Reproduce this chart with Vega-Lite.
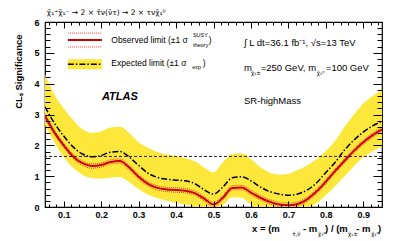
{
  "$schema": "https://vega.github.io/schema/vega-lite/v6.json",
  "width": 337,
  "height": 185,
  "autosize": {"type": "none"},
  "padding": {"left": 45, "top": 22, "right": 25, "bottom": 34},
  "background": "white",
  "config": {"view": {"stroke": "black", "strokeWidth": 1.2}, "font": "Liberation Sans"},
  "datasets": {
    "curve": [
      {"x": 0.05, "obs": 2.95, "obsUp": 3.02, "obsDn": 2.88, "exp": 3.25, "hi": 4.3, "lo": 2.65},
      {"x": 0.075, "obs": 2.42, "obsUp": 2.49, "obsDn": 2.35, "exp": 2.72, "hi": 3.65, "lo": 2.1},
      {"x": 0.1, "obs": 2.0, "obsUp": 2.07, "obsDn": 1.93, "exp": 2.3, "hi": 3.2, "lo": 1.62},
      {"x": 0.125, "obs": 1.64, "obsUp": 1.71, "obsDn": 1.57, "exp": 1.95, "hi": 2.82, "lo": 1.27},
      {"x": 0.15, "obs": 1.42, "obsUp": 1.49, "obsDn": 1.35, "exp": 1.72, "hi": 2.52, "lo": 1.05},
      {"x": 0.175, "obs": 1.33, "obsUp": 1.4, "obsDn": 1.26, "exp": 1.63, "hi": 2.41, "lo": 0.94},
      {"x": 0.2, "obs": 1.36, "obsUp": 1.43, "obsDn": 1.29, "exp": 1.67, "hi": 2.45, "lo": 0.92},
      {"x": 0.225, "obs": 1.46, "obsUp": 1.53, "obsDn": 1.39, "exp": 1.78, "hi": 2.58, "lo": 0.95},
      {"x": 0.25, "obs": 1.49, "obsUp": 1.56, "obsDn": 1.42, "exp": 1.8, "hi": 2.6, "lo": 0.97},
      {"x": 0.275, "obs": 1.28, "obsUp": 1.35, "obsDn": 1.21, "exp": 1.62, "hi": 2.4, "lo": 0.8},
      {"x": 0.3, "obs": 0.98, "obsUp": 1.05, "obsDn": 0.91, "exp": 1.35, "hi": 2.1, "lo": 0.58},
      {"x": 0.325, "obs": 0.75, "obsUp": 0.82, "obsDn": 0.68, "exp": 1.1, "hi": 1.92, "lo": 0.4},
      {"x": 0.35, "obs": 0.62, "obsUp": 0.69, "obsDn": 0.55, "exp": 0.96, "hi": 1.78, "lo": 0.29},
      {"x": 0.375, "obs": 0.57, "obsUp": 0.64, "obsDn": 0.5, "exp": 0.9, "hi": 1.7, "lo": 0.2},
      {"x": 0.4, "obs": 0.55, "obsUp": 0.62, "obsDn": 0.48, "exp": 0.87, "hi": 1.65, "lo": 0.14},
      {"x": 0.425, "obs": 0.53, "obsUp": 0.6, "obsDn": 0.46, "exp": 0.85, "hi": 1.58, "lo": 0.08},
      {"x": 0.45, "obs": 0.45, "obsUp": 0.52, "obsDn": 0.38, "exp": 0.76, "hi": 1.48, "lo": 0.0},
      {"x": 0.475, "obs": 0.27, "obsUp": 0.34, "obsDn": 0.2, "exp": 0.56, "hi": 1.28, "lo": -0.12},
      {"x": 0.5, "obs": 0.08, "obsUp": 0.15, "obsDn": 0.01, "exp": 0.42, "hi": 1.12, "lo": -0.2},
      {"x": 0.525, "obs": 0.3, "obsUp": 0.37, "obsDn": 0.23, "exp": 0.65, "hi": 1.45, "lo": 0.05},
      {"x": 0.55, "obs": 0.62, "obsUp": 0.69, "obsDn": 0.55, "exp": 0.95, "hi": 1.72, "lo": 0.32},
      {"x": 0.575, "obs": 0.63, "obsUp": 0.7, "obsDn": 0.56, "exp": 0.98, "hi": 1.74, "lo": 0.3},
      {"x": 0.6, "obs": 0.47, "obsUp": 0.54, "obsDn": 0.4, "exp": 0.85, "hi": 1.55, "lo": 0.08},
      {"x": 0.625, "obs": 0.3, "obsUp": 0.37, "obsDn": 0.23, "exp": 0.65, "hi": 1.3, "lo": -0.1},
      {"x": 0.65, "obs": 0.17, "obsUp": 0.24, "obsDn": 0.1, "exp": 0.5, "hi": 1.12, "lo": -0.2},
      {"x": 0.675, "obs": 0.08, "obsUp": 0.15, "obsDn": 0.01, "exp": 0.42, "hi": 1.05, "lo": -0.3},
      {"x": 0.7, "obs": 0.06, "obsUp": 0.13, "obsDn": -0.01, "exp": 0.38, "hi": 1.08, "lo": -0.3},
      {"x": 0.725, "obs": 0.1, "obsUp": 0.17, "obsDn": 0.03, "exp": 0.42, "hi": 1.2, "lo": -0.2},
      {"x": 0.75, "obs": 0.25, "obsUp": 0.32, "obsDn": 0.18, "exp": 0.55, "hi": 1.35, "lo": -0.05},
      {"x": 0.775, "obs": 0.5, "obsUp": 0.57, "obsDn": 0.43, "exp": 0.78, "hi": 1.55, "lo": 0.12},
      {"x": 0.8, "obs": 0.82, "obsUp": 0.89, "obsDn": 0.75, "exp": 1.12, "hi": 1.82, "lo": 0.38},
      {"x": 0.825, "obs": 1.17, "obsUp": 1.24, "obsDn": 1.1, "exp": 1.45, "hi": 2.15, "lo": 0.68},
      {"x": 0.85, "obs": 1.5, "obsUp": 1.57, "obsDn": 1.43, "exp": 1.85, "hi": 2.6, "lo": 1.0},
      {"x": 0.875, "obs": 1.82, "obsUp": 1.89, "obsDn": 1.75, "exp": 2.17, "hi": 3.0, "lo": 1.32},
      {"x": 0.9, "obs": 2.1, "obsUp": 2.17, "obsDn": 2.03, "exp": 2.43, "hi": 3.35, "lo": 1.62},
      {"x": 0.925, "obs": 2.33, "obsUp": 2.4, "obsDn": 2.26, "exp": 2.63, "hi": 3.6, "lo": 1.8},
      {"x": 0.95, "obs": 2.52, "obsUp": 2.59, "obsDn": 2.45, "exp": 2.78, "hi": 3.8, "lo": 1.97}
    ]
  },
  "resolve": {"axis": {"x": "independent", "y": "independent"}},
  "layer": [
    {
      "data": {"name": "curve"},
      "mark": {"type": "area", "color": "#fde73a", "interpolate": "monotone", "clip": true},
      "encoding": {
        "x": {"field": "x", "type": "quantitative", "scale": {"domain": [0.05, 0.95], "nice": false, "zero": false},
          "axis": {"orient": "bottom", "title": null, "domain": false, "grid": false, "zindex": 1,
            "values": [0.06,0.08,0.1,0.12,0.14,0.16,0.18,0.2,0.22,0.24,0.26,0.28,0.3,0.32,0.34,0.36,0.38,0.4,0.42,0.44,0.46,0.48,0.5,0.52,0.54,0.56,0.58,0.6,0.62,0.64,0.66,0.68,0.7,0.72,0.74,0.76,0.78,0.8,0.82,0.84,0.86,0.88,0.9,0.92,0.94],
            "labelExpr": "abs(datum.value*10 - round(datum.value*10)) < 0.000001 ? format(datum.value, '.1f') : ''",
            "tickSize": {"condition": {"test": "abs(datum.value*10 - round(datum.value*10)) < 0.000001", "value": -6}, "value": -3},
            "tickColor": "black", "tickWidth": 1, "labelFont": "Liberation Sans", "labelFontWeight": "bold", "labelFontSize": 9, "labelColor": "black", "labelPadding": 9, "labelBaseline": "top"}},
        "y": {"field": "lo", "type": "quantitative", "scale": {"domain": [0, 6], "nice": false, "zero": false},
          "axis": {"orient": "left", "domain": false, "grid": false, "zindex": 1,
            "values": [0,0.2,0.4,0.6,0.8,1,1.2,1.4,1.6,1.8,2,2.2,2.4,2.6,2.8,3,3.2,3.4,3.6,3.8,4,4.2,4.4,4.6,4.8,5,5.2,5.4,5.6,5.8,6],
            "labelExpr": "abs(datum.value - round(datum.value)) < 0.000001 ? format(datum.value, '.0f') : ''",
            "tickSize": {"condition": {"test": "abs(datum.value - round(datum.value)) < 0.000001", "value": -9}, "value": -5},
            "tickColor": "black", "tickWidth": 1, "labelFont": "Liberation Sans", "labelFontWeight": "bold", "labelFontSize": 9, "labelColor": "black", "labelPadding": 15,
            "title": "CLₛ Significance", "titleFont": "Liberation Sans", "titleFontWeight": "bold", "titleFontSize": 9.5, "titleColor": "black",
            "titleAnchor": "end", "titleAngle": 270, "titleAlign": "right", "titleBaseline": "middle", "titleX": -27, "titleY": 12}},
        "y2": {"field": "hi"}
      }
    },
    {
      "data": {"name": "curve"},
      "mark": {"type": "line", "color": "black", "strokeWidth": 1.5, "strokeDash": [6, 2, 1.5, 2], "interpolate": "monotone", "clip": true},
      "encoding": {
        "x": {"field": "x", "type": "quantitative", "scale": {"domain": [0.05, 0.95], "nice": false, "zero": false},
          "axis": {"orient": "top", "title": null, "domain": false, "grid": false, "labels": false, "zindex": 1,
            "values": [0.06,0.08,0.1,0.12,0.14,0.16,0.18,0.2,0.22,0.24,0.26,0.28,0.3,0.32,0.34,0.36,0.38,0.4,0.42,0.44,0.46,0.48,0.5,0.52,0.54,0.56,0.58,0.6,0.62,0.64,0.66,0.68,0.7,0.72,0.74,0.76,0.78,0.8,0.82,0.84,0.86,0.88,0.9,0.92,0.94],
            "tickSize": {"condition": {"test": "abs(datum.value*10 - round(datum.value*10)) < 0.000001", "value": -6}, "value": -3},
            "tickColor": "black", "tickWidth": 1}},
        "y": {"field": "exp", "type": "quantitative", "scale": {"domain": [0, 6], "nice": false, "zero": false},
          "axis": {"orient": "right", "title": null, "domain": false, "grid": false, "labels": false, "zindex": 1,
            "values": [0,0.2,0.4,0.6,0.8,1,1.2,1.4,1.6,1.8,2,2.2,2.4,2.6,2.8,3,3.2,3.4,3.6,3.8,4,4.2,4.4,4.6,4.8,5,5.2,5.4,5.6,5.8,6],
            "tickSize": {"condition": {"test": "abs(datum.value - round(datum.value)) < 0.000001", "value": -9}, "value": -5},
            "tickColor": "black", "tickWidth": 1}}
      }
    },
    {
      "data": {"name": "curve"},
      "mark": {"type": "line", "color": "#e8402a", "strokeWidth": 1, "strokeDash": [1, 1], "interpolate": "monotone", "clip": true},
      "encoding": {
        "x": {"field": "x", "type": "quantitative", "axis": null},
        "y": {"field": "obsUp", "type": "quantitative", "axis": null}
      }
    },
    {
      "data": {"name": "curve"},
      "mark": {"type": "line", "color": "#e8402a", "strokeWidth": 1, "strokeDash": [1, 1], "interpolate": "monotone", "clip": true},
      "encoding": {
        "x": {"field": "x", "type": "quantitative", "axis": null},
        "y": {"field": "obsDn", "type": "quantitative", "axis": null}
      }
    },
    {
      "data": {"name": "curve"},
      "mark": {"type": "line", "color": "#cc0000", "strokeWidth": 2, "interpolate": "monotone", "clip": true},
      "encoding": {
        "x": {"field": "x", "type": "quantitative", "axis": null},
        "y": {"field": "obs", "type": "quantitative", "axis": null}
      }
    },
    {
      "data": {"values": [{}]},
      "mark": {"type": "rule", "color": "#222222", "strokeWidth": 1, "strokeDash": [3, 2]},
      "encoding": {"y": {"datum": 1.64, "type": "quantitative", "axis": null}}
    },
    {
      "data": {"values": [{}]},
      "mark": {"type": "rule", "color": "#e8402a", "strokeWidth": 1, "strokeDash": [1, 1]},
      "encoding": {"x": {"datum": 0.111, "type": "quantitative", "axis": null}, "x2": {"datum": 0.202}, "y": {"datum": 5.64, "type": "quantitative", "axis": null}}
    },
    {
      "data": {"values": [{}]},
      "mark": {"type": "rule", "color": "#cc0000", "strokeWidth": 2},
      "encoding": {"x": {"datum": 0.111, "type": "quantitative", "axis": null}, "x2": {"datum": 0.202}, "y": {"datum": 5.42, "type": "quantitative", "axis": null}}
    },
    {
      "data": {"values": [{}]},
      "mark": {"type": "rule", "color": "#e8402a", "strokeWidth": 1, "strokeDash": [1, 1]},
      "encoding": {"x": {"datum": 0.111, "type": "quantitative", "axis": null}, "x2": {"datum": 0.202}, "y": {"datum": 5.19, "type": "quantitative", "axis": null}}
    },
    {
      "data": {"values": [{}]},
      "mark": {"type": "rect", "color": "#fde73a"},
      "encoding": {"x": {"datum": 0.111, "type": "quantitative", "axis": null}, "x2": {"datum": 0.202}, "y": {"datum": 4.47, "type": "quantitative", "axis": null}, "y2": {"datum": 4.79}}
    },
    {
      "data": {"values": [{}]},
      "mark": {"type": "rule", "color": "black", "strokeWidth": 1.5, "strokeDash": [6, 2, 1.5, 2]},
      "encoding": {"x": {"datum": 0.111, "type": "quantitative", "axis": null}, "x2": {"datum": 0.202}, "y": {"datum": 4.63, "type": "quantitative", "axis": null}}
    },
    {
      "data": {"values": [{}]},
      "mark": {"type": "text", "text": "Observed limit (±1 σ", "align": "left", "baseline": "middle", "fontSize": 8.5, "font": "Liberation Sans", "color": "black"},
      "encoding": {"x": {"datum": 0.227, "type": "quantitative", "axis": null}, "y": {"datum": 5.42, "type": "quantitative", "axis": null}}
    },
    {
      "data": {"values": [{}]},
      "mark": {"type": "text", "text": "SUSY", "align": "left", "baseline": "middle", "fontSize": 5.5, "font": "Liberation Sans", "color": "black"},
      "encoding": {"x": {"datum": 0.445, "type": "quantitative", "axis": null}, "y": {"datum": 5.57, "type": "quantitative", "axis": null}}
    },
    {
      "data": {"values": [{}]},
      "mark": {"type": "text", "text": "theory", "align": "left", "baseline": "middle", "fontSize": 5.5, "font": "Liberation Sans", "color": "black"},
      "encoding": {"x": {"datum": 0.445, "type": "quantitative", "axis": null}, "y": {"datum": 5.26, "type": "quantitative", "axis": null}}
    },
    {
      "data": {"values": [{}]},
      "mark": {"type": "text", "text": ")", "align": "left", "baseline": "middle", "fontSize": 8.5, "font": "Liberation Sans", "color": "black"},
      "encoding": {"x": {"datum": 0.487, "type": "quantitative", "axis": null}, "y": {"datum": 5.42, "type": "quantitative", "axis": null}}
    },
    {
      "data": {"values": [{}]},
      "mark": {"type": "text", "text": "Expected limit (±1 σ", "align": "left", "baseline": "middle", "fontSize": 8.5, "font": "Liberation Sans", "color": "black"},
      "encoding": {"x": {"datum": 0.227, "type": "quantitative", "axis": null}, "y": {"datum": 4.68, "type": "quantitative", "axis": null}}
    },
    {
      "data": {"values": [{}]},
      "mark": {"type": "text", "text": "exp", "align": "left", "baseline": "middle", "fontSize": 5.5, "font": "Liberation Sans", "color": "black"},
      "encoding": {"x": {"datum": 0.443, "type": "quantitative", "axis": null}, "y": {"datum": 4.55, "type": "quantitative", "axis": null}}
    },
    {
      "data": {"values": [{}]},
      "mark": {"type": "text", "text": ")", "align": "left", "baseline": "middle", "fontSize": 8.5, "font": "Liberation Sans", "color": "black"},
      "encoding": {"x": {"datum": 0.471, "type": "quantitative", "axis": null}, "y": {"datum": 4.68, "type": "quantitative", "axis": null}}
    },
    {
      "data": {"values": [{}]},
      "mark": {"type": "text", "text": "∫ L dt=36.1 fb⁻¹,  √s=13 TeV", "align": "left", "baseline": "middle", "fontSize": 9.5, "font": "Liberation Sans", "color": "black"},
      "encoding": {"x": {"datum": 0.5815, "type": "quantitative", "axis": null}, "y": {"datum": 5.32, "type": "quantitative", "axis": null}}
    },
    {
      "data": {"values": [{}]},
      "mark": {"type": "text", "text": "m", "align": "left", "baseline": "middle", "fontSize": 9.5, "font": "Liberation Sans", "color": "black"},
      "encoding": {"x": {"datum": 0.5815, "type": "quantitative", "axis": null}, "y": {"datum": 4.52, "type": "quantitative", "axis": null}}
    },
    {
      "data": {"values": [{}]},
      "mark": {"type": "text", "text": "χ̃₁±", "align": "left", "baseline": "middle", "fontSize": 5.5, "font": "DejaVu Sans", "color": "black"},
      "encoding": {"x": {"datum": 0.6, "type": "quantitative", "axis": null}, "y": {"datum": 4.36, "type": "quantitative", "axis": null}}
    },
    {
      "data": {"values": [{}]},
      "mark": {"type": "text", "text": "=250 GeV, m", "align": "left", "baseline": "middle", "fontSize": 9.5, "font": "Liberation Sans", "color": "black"},
      "encoding": {"x": {"datum": 0.626, "type": "quantitative", "axis": null}, "y": {"datum": 4.52, "type": "quantitative", "axis": null}}
    },
    {
      "data": {"values": [{}]},
      "mark": {"type": "text", "text": "χ̃₁⁰", "align": "left", "baseline": "middle", "fontSize": 5.5, "font": "DejaVu Sans", "color": "black"},
      "encoding": {"x": {"datum": 0.776, "type": "quantitative", "axis": null}, "y": {"datum": 4.36, "type": "quantitative", "axis": null}}
    },
    {
      "data": {"values": [{}]},
      "mark": {"type": "text", "text": "=100 GeV", "align": "left", "baseline": "middle", "fontSize": 9.5, "font": "Liberation Sans", "color": "black"},
      "encoding": {"x": {"datum": 0.8, "type": "quantitative", "axis": null}, "y": {"datum": 4.52, "type": "quantitative", "axis": null}}
    },
    {
      "data": {"values": [{}]},
      "mark": {"type": "text", "text": "SR-highMass", "align": "left", "baseline": "middle", "fontSize": 9.5, "font": "Liberation Sans", "color": "black"},
      "encoding": {"x": {"datum": 0.5815, "type": "quantitative", "axis": null}, "y": {"datum": 3.44, "type": "quantitative", "axis": null}}
    },
    {
      "data": {"values": [{}]},
      "mark": {"type": "text", "text": "ATLAS", "align": "left", "baseline": "middle", "fontSize": 11, "font": "Liberation Sans", "fontWeight": "bold", "fontStyle": "italic", "color": "black"},
      "encoding": {"x": {"datum": 0.202, "type": "quantitative", "axis": null}, "y": {"datum": 3.57, "type": "quantitative", "axis": null}}
    },
    {
      "data": {"values": [{}]},
      "mark": {"type": "text", "text": "χ̃₁⁺χ̃₁⁻ → 2 × τ̃ν(ν̃τ) → 2 × τνχ̃₁⁰", "align": "left", "baseline": "middle", "fontSize": 7.5, "font": "DejaVu Sans", "color": "black"},
      "encoding": {"x": {"datum": 0.055, "type": "quantitative", "axis": null}, "y": {"datum": 6.28, "type": "quantitative", "axis": null}}
    },
    {
      "data": {"values": [{}]},
      "mark": {"type": "text", "text": "x =  (m", "align": "left", "baseline": "middle", "fontSize": 9.5, "fontWeight": "bold", "font": "Liberation Sans", "color": "black"},
      "encoding": {"x": {"datum": 0.603, "type": "quantitative", "axis": null}, "y": {"datum": -0.71, "type": "quantitative", "axis": null}}
    },
    {
      "data": {"values": [{}]},
      "mark": {"type": "text", "text": "τ̃,ν̃", "align": "left", "baseline": "middle", "fontSize": 5.5, "font": "DejaVu Sans", "color": "black"},
      "encoding": {"x": {"datum": 0.71, "type": "quantitative", "axis": null}, "y": {"datum": -0.88, "type": "quantitative", "axis": null}}
    },
    {
      "data": {"values": [{}]},
      "mark": {"type": "text", "text": "-  m", "align": "left", "baseline": "middle", "fontSize": 9.5, "fontWeight": "bold", "font": "Liberation Sans", "color": "black"},
      "encoding": {"x": {"datum": 0.739, "type": "quantitative", "axis": null}, "y": {"datum": -0.71, "type": "quantitative", "axis": null}}
    },
    {
      "data": {"values": [{}]},
      "mark": {"type": "text", "text": "χ̃₁⁰", "align": "left", "baseline": "middle", "fontSize": 5.5, "font": "DejaVu Sans", "color": "black"},
      "encoding": {"x": {"datum": 0.779, "type": "quantitative", "axis": null}, "y": {"datum": -0.88, "type": "quantitative", "axis": null}}
    },
    {
      "data": {"values": [{}]},
      "mark": {"type": "text", "text": ") / (m", "align": "left", "baseline": "middle", "fontSize": 9.5, "fontWeight": "bold", "font": "Liberation Sans", "color": "black"},
      "encoding": {"x": {"datum": 0.798, "type": "quantitative", "axis": null}, "y": {"datum": -0.71, "type": "quantitative", "axis": null}}
    },
    {
      "data": {"values": [{}]},
      "mark": {"type": "text", "text": "χ̃₁±", "align": "left", "baseline": "middle", "fontSize": 5.5, "font": "DejaVu Sans", "color": "black"},
      "encoding": {"x": {"datum": 0.859, "type": "quantitative", "axis": null}, "y": {"datum": -0.88, "type": "quantitative", "axis": null}}
    },
    {
      "data": {"values": [{}]},
      "mark": {"type": "text", "text": "-  m", "align": "left", "baseline": "middle", "fontSize": 9.5, "fontWeight": "bold", "font": "Liberation Sans", "color": "black"},
      "encoding": {"x": {"datum": 0.881, "type": "quantitative", "axis": null}, "y": {"datum": -0.71, "type": "quantitative", "axis": null}}
    },
    {
      "data": {"values": [{}]},
      "mark": {"type": "text", "text": "χ̃₁⁰", "align": "left", "baseline": "middle", "fontSize": 5.5, "font": "DejaVu Sans", "color": "black"},
      "encoding": {"x": {"datum": 0.921, "type": "quantitative", "axis": null}, "y": {"datum": -0.88, "type": "quantitative", "axis": null}}
    },
    {
      "data": {"values": [{}]},
      "mark": {"type": "text", "text": ")", "align": "left", "baseline": "middle", "fontSize": 9.5, "fontWeight": "bold", "font": "Liberation Sans", "color": "black"},
      "encoding": {"x": {"datum": 0.939, "type": "quantitative", "axis": null}, "y": {"datum": -0.71, "type": "quantitative", "axis": null}}
    }
  ]
}
